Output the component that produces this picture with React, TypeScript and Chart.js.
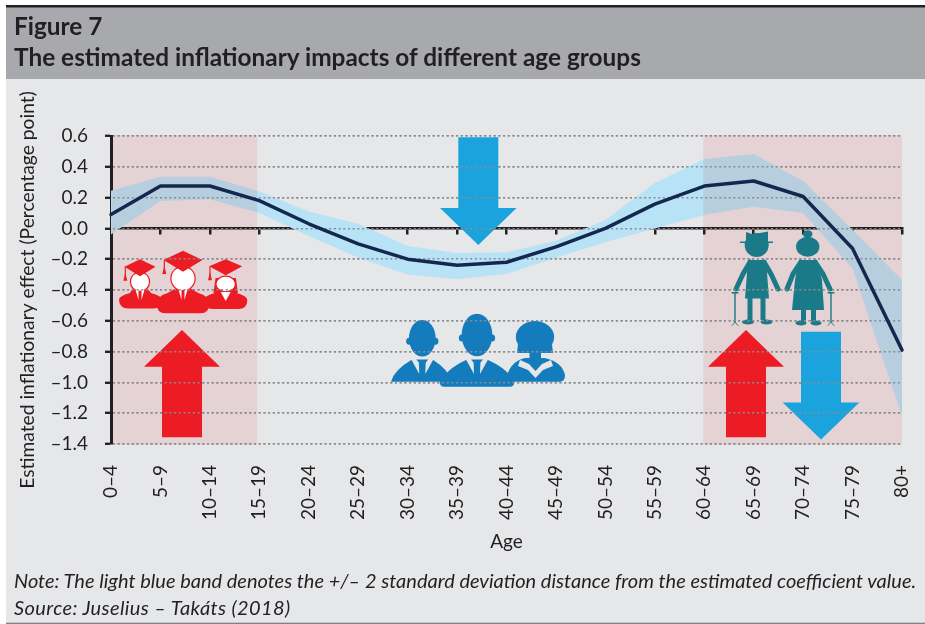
import React, { useEffect, useRef } from "react";
import { Chart, registerables } from "chart.js";

Chart.register(...registerables);

const ageGroups = ["0–4","5–9","10–14","15–19","20–24","25–29","30–34","35–39","40–44","45–49","50–54","55–59","60–64","65–69","70–74","75–79","80+"];
const estimate = [0.09,0.275,0.275,0.18,0.03,-0.1,-0.2,-0.24,-0.22,-0.12,0.0,0.158,0.275,0.308,0.207,-0.13,-0.79];
const upperBand = [0.245,0.335,0.335,0.24,0.11,0.03,-0.115,-0.16,-0.155,-0.08,0.055,0.295,0.45,0.483,0.307,-0.01,-0.335];
const lowerBand = [-0.04,0.178,0.19,0.1,-0.05,-0.19,-0.3,-0.33,-0.296,-0.19,-0.09,0.0,0.087,0.14,0.1,-0.26,-1.22];
const shadedRanges = [["0–4","15–19"],["60–64","80+"]];

const INK = "#231f20";
const RED = "#ed1c24";
const BLUE = "#1aa3dd";
const PEOPLE = "#147cbd";
const TEAL = "#1a7a87";
const BG = "#e6e7e9";
const FONT = "Lato, Carlito, sans-serif";

type Ctx = CanvasRenderingContext2D;

function poly(c: Ctx, color: string, pts: number[][]) {
  c.fillStyle = color;
  c.beginPath();
  pts.forEach((p, i) => (i ? c.lineTo(p[0], p[1]) : c.moveTo(p[0], p[1])));
  c.closePath();
  c.fill();
}
function ell(c: Ctx, color: string, x: number, y: number, rx: number, ry: number) {
  c.fillStyle = color;
  c.beginPath();
  c.ellipse(x, y, rx, ry, 0, 0, Math.PI * 2);
  c.fill();
}
function rect(c: Ctx, color: string, x0: number, y0: number, x1: number, y1: number, r = 0) {
  c.fillStyle = color;
  c.beginPath();
  c.roundRect(x0, y0, x1 - x0, y1 - y0, r);
  c.fill();
}
function limb(c: Ctx, color: string, w: number, pts: number[][]) {
  c.strokeStyle = color;
  c.lineWidth = w;
  c.lineCap = "round";
  c.beginPath();
  pts.forEach((p, i) => (i ? c.lineTo(p[0], p[1]) : c.moveTo(p[0], p[1])));
  c.stroke();
}

function arrowUp(c: Ctx, cx: number) {
  poly(c, RED, [[cx, 330],[cx + 38, 366.7],[cx + 20, 366.7],[cx + 20, 437.3],[cx - 20, 437.3],[cx - 20, 366.7],[cx - 38, 366.7]]);
}
function arrowDown(c: Ctx, cx: number, top: number) {
  const wing = top + 70.7;
  const tip = wing + 37;
  poly(c, BLUE, [[cx - 20, top],[cx + 20, top],[cx + 20, wing],[cx + 38.3, wing],[cx, tip],[cx - 38.3, wing],[cx - 20, wing]]);
}

function graduate(c: Ctx, cx: number, capTop: number, capW: number, capH: number, headY: number, rx: number, ry: number, x0: number, x1: number, bodyBottom: number, long: boolean) {
  c.fillStyle = RED;
  c.beginPath();
  const top = 290;
  c.moveTo(x0, bodyBottom - 9);
  c.quadraticCurveTo(x0, top + 6, x0 + 11, top + 3);
  c.lineTo(cx - 7, top - 2);
  c.lineTo(cx + 7, top - 2);
  c.lineTo(x1 - 11, top + 3);
  c.quadraticCurveTo(x1, top + 6, x1, bodyBottom - 9);
  c.quadraticCurveTo(x1, bodyBottom, x1 - 9, bodyBottom);
  c.lineTo(x0 + 9, bodyBottom);
  c.quadraticCurveTo(x0, bodyBottom, x0, bodyBottom - 9);
  c.fill();
  if (long) poly(c, RED, [[cx - rx - 1, headY - 6],[cx + rx + 1, headY - 6],[cx + rx + 3, top + 3],[cx - rx - 3, top + 3]]);
  ell(c, RED, cx, headY, rx + 1.2, ry + 1.2);
  ell(c, "#ffffff", cx, headY, rx, ry);
  poly(c, RED, [[cx, capTop],[cx + capW, capTop + capH * 0.44],[cx, capTop + capH],[cx - capW, capTop + capH * 0.44]]);
  rect(c, RED, cx - capW + 0.2, capTop + capH * 0.44, cx - capW + 1.4, capTop + capH * 0.44 + 10);
  poly(c, RED, [[cx - capW + 0.8, capTop + capH * 0.44 + 6],[cx - capW + 2.8, capTop + capH * 0.44 + 14],[cx - capW - 1.2, capTop + capH * 0.44 + 14]]);
  if (long) {
    poly(c, "#ffffff", [[cx - 5, top + 2],[cx + 5, top + 2],[cx, top + 11]]);
  } else {
    poly(c, "#ffffff", [[cx - 4.5, top - 0.5],[cx - 1.5, top - 0.5],[cx - 1.5, top + 10]]);
    poly(c, "#ffffff", [[cx + 4.5, top - 0.5],[cx + 1.5, top - 0.5],[cx + 1.5, top + 10]]);
  }
}

function man(c: Ctx, cx: number, headY: number, rx: number, ry: number, x0: number, x1: number, bottom: number) {
  const top = 360;
  c.fillStyle = PEOPLE;
  c.beginPath();
  c.moveTo(x0, bottom);
  c.quadraticCurveTo(x0 + 3, top + 10, cx - 11, top);
  c.lineTo(cx + 11, top);
  c.quadraticCurveTo(x1 - 3, top + 10, x1, bottom);
  c.closePath();
  c.fill();
  ell(c, PEOPLE, cx, headY, rx, ry);
  ell(c, PEOPLE, cx - rx, headY + 3, 2.8, 3.5);
  ell(c, PEOPLE, cx + rx, headY + 3, 2.8, 3.5);
  poly(c, BG, [[cx - 11, top - 0.5],[cx - 3.5, top - 0.5],[cx - 3, top + 14]]);
  poly(c, BG, [[cx + 11, top - 0.5],[cx + 3.5, top - 0.5],[cx + 3, top + 14]]);
  poly(c, PEOPLE, [[cx - 6, top - 0.5],[cx + 6, top - 0.5],[cx + 3, top + 3],[cx - 3, top + 3]]);
  poly(c, PEOPLE, [[cx - 2, top + 3],[cx + 2, top + 3],[cx + 3, top + 17],[cx, top + 20],[cx - 3, top + 17]]);
}

function drawStudents(c: Ctx) {
  graduate(c, 140, 259.3, 15.5, 17, 281.7, 9, 9, 119, 162, 308.5, false);
  graduate(c, 225.7, 259.3, 16.5, 16, 284, 9.2, 7.2, 204, 247.3, 309, true);
  graduate(c, 183, 250.7, 19.5, 21, 278.5, 11.5, 11.5, 156.7, 209.3, 313.3, false);
}

function drawWorkers(c: Ctx) {
  rect(c, PEOPLE, 440, 378, 514, 386.7, 4);
  man(c, 422.3, 338.3, 13.3, 18.3, 391, 452, 381.7);
  c.fillStyle = PEOPLE;
  c.beginPath();
  c.moveTo(506, 381.7);
  c.quadraticCurveTo(508, 362, 525, 358);
  c.lineTo(545, 358);
  c.quadraticCurveTo(562, 362, 565, 375);
  c.quadraticCurveTo(565, 381.7, 560, 381.7);
  c.closePath();
  c.fill();
  rect(c, PEOPLE, 529.5, 350, 541, 365);
  poly(c, BG, [[520, 360],[529, 364],[535.5, 371],[542, 364],[551, 360],[553, 366],[543, 370],[535.5, 378],[528, 370],[518, 366]]);
  ell(c, PEOPLE, 535, 337, 19.2, 16);
  poly(c, PEOPLE, [[518, 344],[552, 344],[553, 353],[517, 353]]);
  man(c, 477, 335, 15.3, 21.3, 441.7, 513, 382);
}

function drawElders(c: Ctx) {
  ell(c, TEAL, 756.7, 245, 12, 12);
  poly(c, TEAL, [[746, 241.5],[746, 232],[752, 234],[760, 233],[768, 231.5],[768, 241.5],[773, 241.5],[773, 243],[740, 243],[740, 241.5]]);
  poly(c, TEAL, [[748, 260],[766, 260],[769, 298.5],[745, 298.5]]);
  limb(c, TEAL, 5, [[750, 262],[743, 274],[736, 289]]);
  limb(c, TEAL, 5, [[764, 262],[771, 274],[778, 289]]);
  rect(c, TEAL, 747.5, 296, 752.5, 320);
  rect(c, TEAL, 760.5, 296, 765.5, 320);
  ell(c, TEAL, 748, 322, 6, 2.6);
  ell(c, TEAL, 766.5, 322, 6, 2.6);
  ell(c, TEAL, 807.7, 234, 4.8, 3.8);
  ell(c, TEAL, 807.7, 246.7, 11.7, 10);
  poly(c, TEAL, [[799, 260],[817, 260],[822, 280],[824, 310],[792, 310],[795, 280]]);
  limb(c, TEAL, 5, [[801, 262],[793, 274],[787, 289]]);
  limb(c, TEAL, 5, [[815, 262],[823, 274],[830, 289]]);
  rect(c, TEAL, 801, 308, 806, 321);
  rect(c, TEAL, 811, 308, 816, 321);
  ell(c, TEAL, 801, 323, 5.5, 2.6);
  ell(c, TEAL, 816, 323, 5.5, 2.6);
  for (const x of [735, 831]) {
    rect(c, TEAL, x - 0.7, 293, x + 0.7, 323);
    rect(c, TEAL, x - 3.4, 292, x + 3.4, 293.6);
    limb(c, TEAL, 0.9, [[x - 3, 325.5],[x, 322],[x + 3, 325.5]]);
  }
}

export default function App() {
  const ref = useRef<HTMLCanvasElement>(null);
  useEffect(() => {
    const paper = {
      id: "paper",
      beforeDraw(chart: any) {
        const c: Ctx = chart.ctx;
        c.save();
        c.fillStyle = "#ffffff";
        c.fillRect(0, 0, 925, 624);
        c.fillStyle = BG;
        c.fillRect(6, 79, 919, 544);
        c.fillStyle = "#a7a9ac";
        c.fillRect(6, 7, 919, 72);
        c.fillStyle = INK;
        c.fillRect(6, 5, 919, 2.5);
        c.fillStyle = "#808285";
        c.fillRect(6, 622.7, 919, 1.3);
        c.restore();
      },
      afterDatasetDraw(chart: any, args: any) {
        if (args.index !== 1) return;
        const c: Ctx = chart.ctx;
        const { x, y } = chart.scales;
        const area = chart.chartArea;
        c.save();
        c.globalCompositeOperation = "multiply";
        c.fillStyle = "#fee8e8";
        shadedRanges.forEach(([a, b]) => {
          const first = ageGroups.indexOf(a);
          const x0 = x.getPixelForValue(first) + (first === 0 ? 0.5 : -1);
          let x1 = x.getPixelForValue(ageGroups.indexOf(b));
          if (b !== "80+") x1 -= 2;
          c.fillRect(x0, area.top - 1, x1 - x0, area.bottom - area.top + 2);
        });
        c.restore();
        c.save();
        arrowUp(c, 182);
        arrowUp(c, 746);
        arrowDown(c, 478.3, 137.3);
        arrowDown(c, 821, 331.7);
        drawStudents(c);
        drawWorkers(c);
        drawElders(c);
        c.restore();
        y.drawGrid(area);
      },
    };
    const chart = new Chart(ref.current!, {
      type: "line",
      data: {
        labels: ageGroups,
        datasets: [
          { label: "Estimate", data: estimate, borderColor: "#14284f", borderWidth: 3.5, pointRadius: 0, tension: 0, fill: false, clip: false, borderCapStyle: "round", borderJoinStyle: "round" },
          { label: "Upper", data: upperBand, borderWidth: 0, pointRadius: 0, tension: 0, fill: "+1", backgroundColor: "#b8e3f6", borderColor: "transparent" },
          { label: "Lower", data: lowerBand, borderWidth: 0, pointRadius: 0, tension: 0, fill: false, borderColor: "transparent" },
        ],
      },
      plugins: [paper],
      options: {
        animation: false,
        responsive: false,
        layout: { autoPadding: false, padding: { left: 0, right: 23, top: 136, bottom: 52 } },
        plugins: { legend: { display: false }, tooltip: { enabled: false } },
        scales: {
          x: {
            type: "category",
            position: "bottom",
            afterFit(s: any) { s.height = 128; s.paddingLeft = 0; s.paddingRight = 0; },
            grid: { display: false },
            border: { display: false },
            ticks: { autoSkip: false, minRotation: 90, maxRotation: 90, padding: 13, color: INK, font: { family: FONT, size: 19 } },
            title: { display: true, text: "Age", color: INK, font: { family: FONT, size: 19 }, padding: { top: 0, bottom: 19 } },
          },
          x0: {
            type: "category",
            axis: "x",
            position: { y: 0 },
            z: 1,
            afterFit(s: any) { s.paddingLeft = 0; s.paddingRight = 0; },
            grid: { drawOnChartArea: false, color: INK, lineWidth: 2.5, tickLength: 5 },
            border: { color: INK, width: 2.5 },
            ticks: { display: false },
          },
          y: {
            position: "left",
            min: -1.4,
            max: 0.6,
            afterFit(s: any) { s.width = 111; },
            grid: { color: "#8a8c8f", lineWidth: 1.6, tickColor: INK, tickWidth: 2, tickLength: 6, tickBorderDash: [] },
            border: { color: INK, width: 3, dash: [2, 2.7] },
            ticks: {
              stepSize: 0.2,
              padding: 17,
              color: INK,
              font: { family: FONT, size: 19 },
              callback: (v: any) => Number(v).toFixed(1).replace("-", "–"),
            },
            title: { display: true, text: "Estimated inflationary effect (Percentage point)", color: INK, font: { family: FONT, size: 19.3 }, padding: { top: 16, bottom: 0 } },
          },
        },
      } as any,
    } as any);
    return () => chart.destroy();
  }, []);

  const text: React.CSSProperties = { position: "absolute", left: 14, whiteSpace: "nowrap", fontFamily: FONT, color: INK };
  return (
    <div style={{ position: "absolute", left: 0, top: 0, width: 925, height: 624, overflow: "hidden" }}>
      <canvas ref={ref} width={925} height={624} style={{ position: "absolute", left: 0, top: 0, display: "block" }} />
      <div style={{ ...text, top: 10, fontSize: 24.4, fontWeight: 700, lineHeight: "32px" }}>Figure 7</div>
      <div style={{ ...text, top: 41, fontSize: 24.4, fontWeight: 700, lineHeight: "32px" }}>The estimated inflationary impacts of different age groups</div>
      <div style={{ ...text, top: 567, fontSize: 20, fontStyle: "italic", lineHeight: "26px" }}>Note: The light blue band denotes the +/– 2 standard deviation distance from the estimated coefficient value.</div>
      <div style={{ ...text, top: 594, fontSize: 20, fontStyle: "italic", letterSpacing: 0.4, lineHeight: "26px" }}>Source: Juselius – Takáts (2018)</div>
    </div>
  );
}
